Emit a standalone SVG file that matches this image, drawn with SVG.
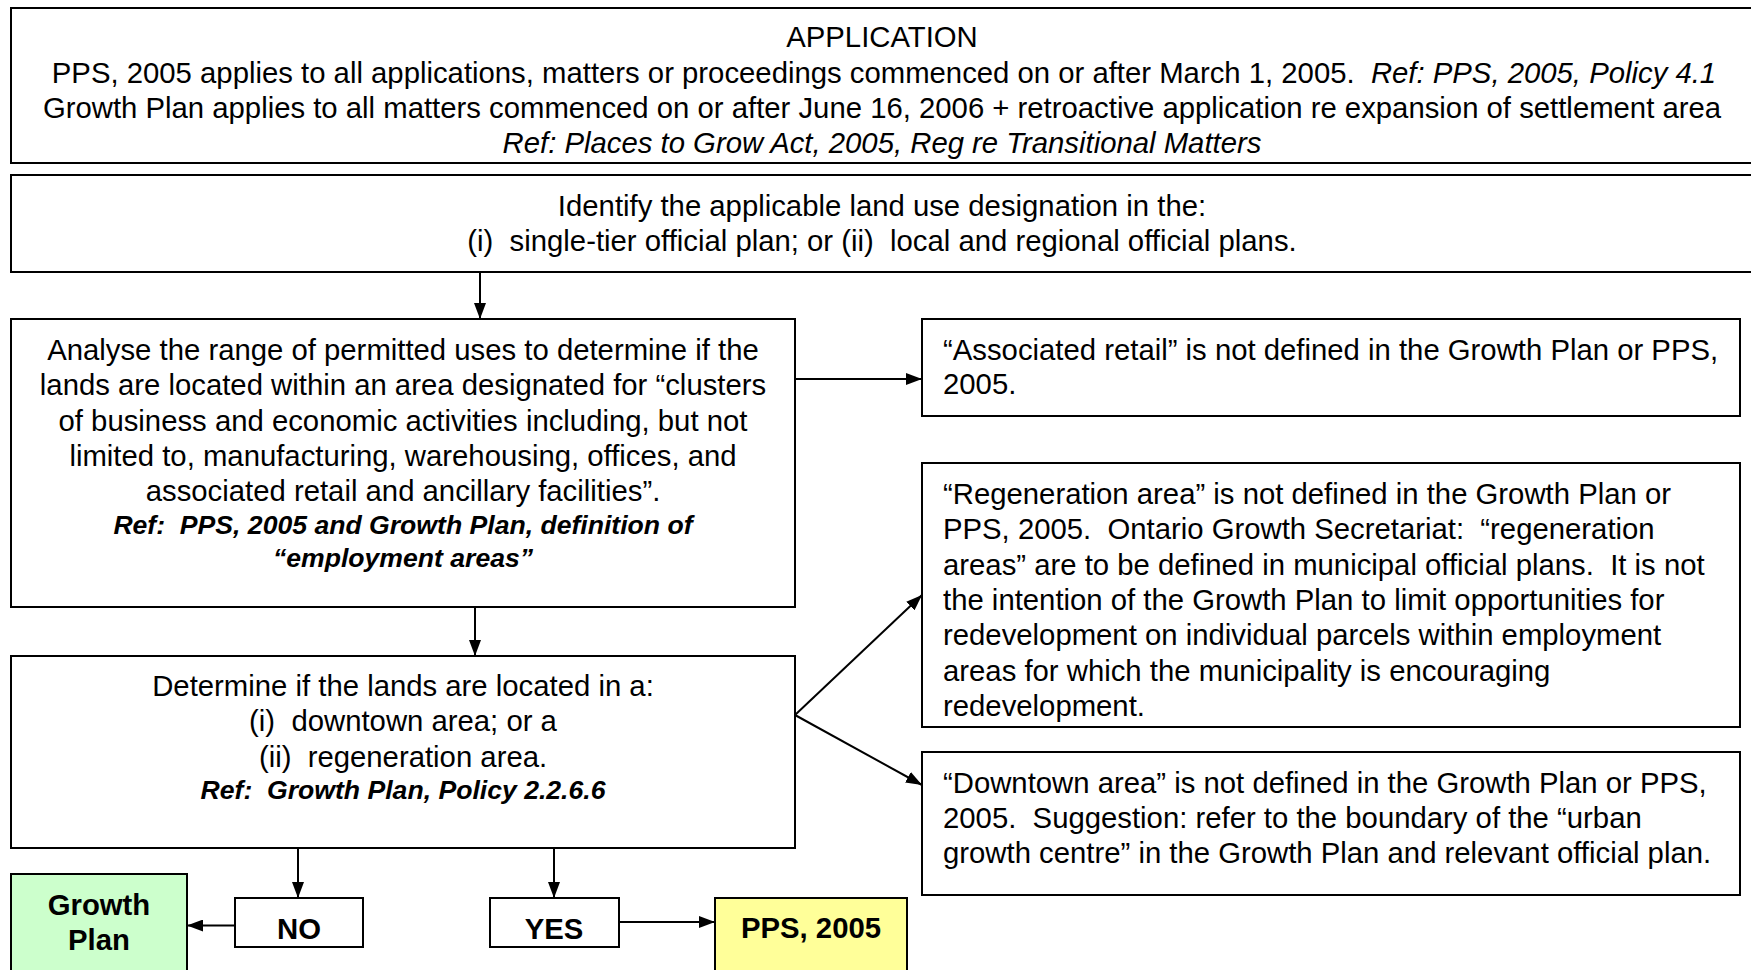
<svg xmlns="http://www.w3.org/2000/svg" width="1751" height="970" viewBox="0 0 1751 970">
<style>
  .box { fill: #fff; stroke: #000; stroke-width: 2; }
  .t { font-family: "Liberation Sans", Arial, sans-serif; font-size: 29.3px; fill: #000; }
  .c { text-anchor: middle; }
  .i { font-style: italic; }
  .bi { font-style: italic; font-weight: bold; font-size: 26.6px; }
  .b { font-weight: bold; }
  .line { stroke: #000; stroke-width: 2; fill: none; }
</style>
<defs>
  <marker id="ah" viewBox="0 0 16 12" refX="16" refY="6" markerWidth="16" markerHeight="12" markerUnits="userSpaceOnUse" orient="auto">
    <path d="M0,0 L16,6 L0,12 Z" fill="#000"/>
  </marker>
</defs>
<rect width="1751" height="970" fill="#fff"/>

<g id="connectors">
  <line class="line" x1="480" y1="272" x2="480" y2="319" marker-end="url(#ah)"/>
  <line class="line" x1="795" y1="379" x2="922" y2="379" marker-end="url(#ah)"/>
  <line class="line" x1="475" y1="607" x2="475" y2="656" marker-end="url(#ah)"/>
  <line class="line" x1="795" y1="715" x2="922" y2="595" marker-end="url(#ah)"/>
  <line class="line" x1="795" y1="715" x2="922" y2="785" marker-end="url(#ah)"/>
  <line class="line" x1="298" y1="848" x2="298" y2="898" marker-end="url(#ah)"/>
  <line class="line" x1="554" y1="848" x2="554" y2="898" marker-end="url(#ah)"/>
  <line class="line" x1="235" y1="925.5" x2="187" y2="925.5" marker-end="url(#ah)"/>
  <line class="line" x1="619" y1="922" x2="715" y2="922" marker-end="url(#ah)"/>
</g>

<g id="application">
  <rect class="box" x="11" y="8" width="1760" height="155"/>
  <text class="t c" x="882" y="47">APPLICATION</text>
  <text class="t c" x="884" y="83" xml:space="preserve">PPS, 2005 applies to all applications, matters or proceedings commenced on or after March 1, 2005.  <tspan class="i">Ref: PPS, 2005, Policy 4.1</tspan></text>
  <text class="t c" x="882" y="118">Growth Plan applies to all matters commenced on or after June 16, 2006 + retroactive application re expansion of settlement area</text>
  <text class="t c i" x="882" y="153">Ref: Places to Grow Act, 2005, Reg re Transitional Matters</text>
</g>

<g id="identify">
  <rect class="box" x="11" y="175" width="1760" height="97"/>
  <text class="t c" x="882" y="216">Identify the applicable land use designation in the:</text>
  <text class="t c" x="882" y="251" xml:space="preserve">(i)  single-tier official plan; or (ii)  local and regional official plans.</text>
</g>

<g id="analyse">
  <rect class="box" x="11" y="319" width="784" height="288"/>
  <text class="t c" x="403" y="360">Analyse the range of permitted uses to determine if the</text>
  <text class="t c" x="403" y="395">lands are located within an area designated for “clusters</text>
  <text class="t c" x="403" y="431">of business and economic activities including, but not</text>
  <text class="t c" x="403" y="466">limited to, manufacturing, warehousing, offices, and</text>
  <text class="t c" x="403" y="501">associated retail and ancillary facilities”.</text>
  <text class="t c bi" x="403" y="534" xml:space="preserve">Ref:  PPS, 2005 and Growth Plan, definition of</text>
  <text class="t c bi" x="403" y="567">“employment areas”</text>
</g>

<g id="associated">
  <rect class="box" x="922" y="319" width="818" height="97"/>
  <text class="t" x="943" y="360">“Associated retail” is not defined in the Growth Plan or PPS,</text>
  <text class="t" x="943" y="394">2005.</text>
</g>

<g id="regeneration">
  <rect class="box" x="922" y="463" width="818" height="264"/>
  <text class="t" x="943" y="504">“Regeneration area” is not defined in the Growth Plan or</text>
  <text class="t" x="943" y="539" xml:space="preserve">PPS, 2005.  Ontario Growth Secretariat:  “regeneration</text>
  <text class="t" x="943" y="575" xml:space="preserve">areas” are to be defined in municipal official plans.  It is not</text>
  <text class="t" x="943" y="610">the intention of the Growth Plan to limit opportunities for</text>
  <text class="t" x="943" y="645">redevelopment on individual parcels within employment</text>
  <text class="t" x="943" y="681">areas for which the municipality is encouraging</text>
  <text class="t" x="943" y="716">redevelopment.</text>
</g>

<g id="determine">
  <rect class="box" x="11" y="656" width="784" height="192"/>
  <text class="t c" x="403" y="696">Determine if the lands are located in a:</text>
  <text class="t c" x="403" y="731" xml:space="preserve">(i)  downtown area; or a</text>
  <text class="t c" x="403" y="767" xml:space="preserve">(ii)  regeneration area.</text>
  <text class="t c bi" x="403" y="799" xml:space="preserve">Ref:  Growth Plan, Policy 2.2.6.6</text>
</g>

<g id="downtown">
  <rect class="box" x="922" y="752" width="818" height="143"/>
  <text class="t" x="943" y="793">“Downtown area” is not defined in the Growth Plan or PPS,</text>
  <text class="t" x="943" y="828" xml:space="preserve">2005.  Suggestion: refer to the boundary of the “urban</text>
  <text class="t" x="943" y="863">growth centre” in the Growth Plan and relevant official plan.</text>
</g>

<g id="growth-plan">
  <rect x="11" y="874" width="176" height="110" fill="#ccffcc" stroke="#000" stroke-width="2"/>
  <text class="t c b" x="99" y="915">Growth</text>
  <text class="t c b" x="99" y="950">Plan</text>
</g>

<g id="no">
  <rect class="box" x="235" y="898" width="128" height="49"/>
  <text class="t c b" x="299" y="939">NO</text>
</g>

<g id="yes">
  <rect class="box" x="490" y="898" width="129" height="49"/>
  <text class="t c b" x="554" y="939">YES</text>
</g>

<g id="pps">
  <rect x="715" y="898" width="192" height="90" fill="#ffff99" stroke="#000" stroke-width="2"/>
  <text class="t c b" x="811" y="938">PPS, 2005</text>
</g>
</svg>
